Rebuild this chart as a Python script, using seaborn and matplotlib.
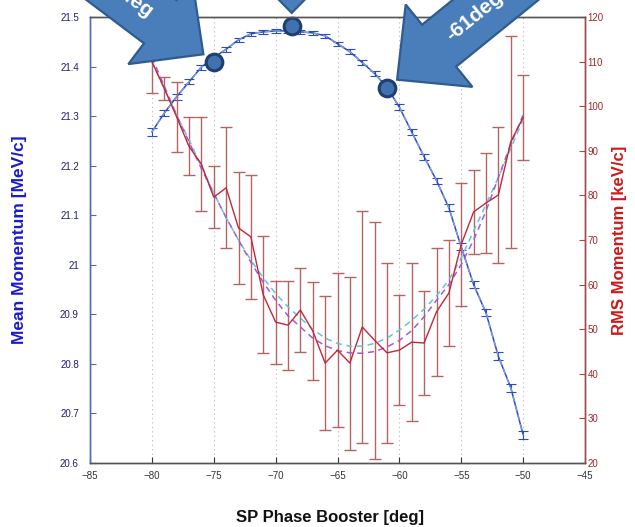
import numpy as np
import pandas as pd
import matplotlib
matplotlib.use("Agg")
import matplotlib.pyplot as plt
from matplotlib.patches import Polygon
from matplotlib.transforms import IdentityTransform
import seaborn as sns

# ---- data -------------------------------------------------------------
phase = [-80, -79, -78, -77, -76, -75, -74, -73, -72, -71, -70, -69, -68,
         -67, -66, -65, -64, -63, -62, -61, -60, -59, -58, -57, -56, -55,
         -54, -53, -52, -51, -50]

mean_momentum = [21.268, 21.306, 21.339, 21.369, 21.399, 21.418, 21.435,
                 21.454, 21.466, 21.470, 21.472, 21.472, 21.470, 21.468,
                 21.462, 21.446, 21.430, 21.408, 21.386, 21.358, 21.318,
                 21.268, 21.218, 21.170, 21.115, 21.036, 20.960, 20.903,
                 20.815, 20.752, 20.657]
mean_err = [0.008, 0.006, 0.006, 0.005, 0.005, 0.005, 0.005, 0.004, 0.004,
            0.004, 0.004, 0.004, 0.004, 0.004, 0.004, 0.004, 0.005, 0.005,
            0.005, 0.005, 0.006, 0.006, 0.006, 0.006, 0.007, 0.007, 0.007,
            0.007, 0.008, 0.008, 0.008]

rms_momentum = [110.0, 104.0, 97.6, 91.0, 87.0, 79.6, 81.7, 72.7, 70.7, 57.7,
                51.6, 50.9, 54.3, 49.6, 42.4, 45.3, 42.4, 50.5, 47.5, 44.7,
                45.3, 47.1, 46.9, 53.9, 58.1, 69.0, 76.3, 78.3, 80.1, 92.0,
                97.5]
rms_err = [7.0, 2.5, 7.9, 6.5, 10.5, 7.0, 13.6, 12.6, 13.9, 13.1, 9.3, 10.0,
           9.5, 10.9, 15.1, 17.3, 19.4, 26.0, 26.5, 20.2, 12.4, 17.7, 11.7,
           14.4, 11.9, 13.7, 9.4, 11.3, 15.2, 23.7, 9.6]

rms_fit_a = [110.0, 104.0, 98.0, 92.5, 86.5, 80.5, 75.0, 70.0, 65.5, 61.5,
             58.0, 55.0, 52.5, 50.0, 48.0, 46.8, 46.2, 46.2, 46.8, 48.0,
             49.8, 52.0, 54.5, 57.5, 61.0, 66.0, 72.0, 78.0, 84.0, 90.5, 97.0]
rms_fit_b = [111.0, 104.5, 98.0, 92.0, 86.0, 80.5, 75.0, 70.0, 65.0, 60.5,
             56.5, 53.0, 50.5, 48.0, 46.3, 45.2, 44.7, 44.6, 45.0, 46.0,
             47.5, 49.7, 52.8, 56.5, 60.0, 64.5, 70.0, 76.5, 84.0, 91.5, 98.0]

marked_phase = [-75.0, -68.7, -61.0]
marked_mean = [21.409, 21.482, 21.357]
marked_text = ["-75deg", "", "-61deg"]

x_ticks = [-85, -80, -75, -70, -65, -60, -55, -50, -45]
left_ticks = [20.6, 20.7, 20.8, 20.9, 21.0, 21.1, 21.2, 21.3, 21.4, 21.5]
left_tick_labels = ["20.6", "20.7", "20.8", "20.9", "21", "21.1", "21.2",
                    "21.3", "21.4", "21.5"]
right_ticks = [20, 30, 40, 50, 60, 70, 80, 90, 100, 110, 120]

# ---- style ------------------------------------------------------------
sns.set_theme(style="white")
plt.rcParams["font.family"] = ["Liberation Sans", "DejaVu Sans"]

BLUE = "#2b4cc0"
LIGHT_BLUE = "#7d9de0"
RED = "#c0283a"
BAR_RED = "#b46464"
CYAN = "#62c6d6"
MAGENTA = "#a65ad0"
ARROW_FILL = "#4a7ebb"
ARROW_EDGE = "#2f5b8f"

W, H = 635, 527
fig = plt.figure(figsize=(W / 100, H / 100), dpi=100)
fig.patch.set_facecolor("white")
ax = fig.add_axes([90 / W, 64 / H, 495 / W, 446 / H])

df = pd.DataFrame({"phase": phase, "mean": mean_momentum, "rms": rms_momentum,
                   "fit_a": rms_fit_a, "fit_b": rms_fit_b})

# mean momentum (left axis)
ax.errorbar(df["phase"], df["mean"], yerr=mean_err, fmt="none",
            ecolor=BLUE, elinewidth=0.8, capsize=3.5, capthick=0.8, zorder=3)
sns.lineplot(data=df, x="phase", y="mean", ax=ax, color=BLUE, lw=1.1,
             zorder=3)
sns.lineplot(data=df, x="phase", y="mean", ax=ax, color=LIGHT_BLUE, lw=1.0,
             linestyle=(0, (4, 3)), zorder=4)

ax.set_xlim(-85, -45)
ax.set_ylim(20.6, 21.5)
ax.set_xticks(x_ticks)
ax.set_yticks(left_ticks)
ax.set_yticklabels(left_tick_labels)
ax.xaxis.grid(True, linestyle=(0, (1, 3)), color="#b8b8b8", lw=0.8)
ax.yaxis.grid(False)
ax.set_axisbelow(True)

# RMS momentum (right axis)
ax2 = ax.twinx()
ax2.errorbar(df["phase"], df["rms"], yerr=rms_err, fmt="none",
             ecolor=BAR_RED, elinewidth=1.0, capsize=4, capthick=1.0,
             zorder=2)
sns.lineplot(data=df, x="phase", y="fit_a", ax=ax2, color=CYAN, lw=1.1,
             linestyle=(0, (4, 3)), zorder=3)
sns.lineplot(data=df, x="phase", y="fit_b", ax=ax2, color=MAGENTA, lw=1.1,
             linestyle=(0, (4, 3)), zorder=3)
sns.lineplot(data=df, x="phase", y="rms", ax=ax2, color=RED, lw=1.0,
             zorder=4)
ax2.set_ylim(20, 120)
ax2.set_yticks(right_ticks)
ax2.set_xlim(-85, -45)

# axes cosmetics
for a in (ax, ax2):
    for s in a.spines.values():
        s.set_linewidth(1.0)
        s.set_color("#555555")
ax.spines["left"].set_color("#5a66b8")
ax2.spines["left"].set_color("#5a66b8")
ax2.spines["right"].set_color("#a84848")

ax.tick_params(axis="x", direction="in", length=4, width=0.8, pad=6,
               labelsize=7, colors="#333333", top=False, bottom=True)
ax.tick_params(axis="y", direction="in", length=4, width=0.8, pad=8,
               labelsize=7, colors="#5a66b8", labelcolor="#1c1c78")
ax2.tick_params(axis="y", direction="in", length=4, width=0.8, pad=2,
                labelsize=7, colors="#a84848", labelcolor="#a02828")

ax.set_xlabel("SP Phase Booster [deg]", fontsize=12, fontweight="bold",
              color="#111111")
ax.xaxis.set_label_coords(0.485, -0.105)
ax.set_ylabel("Mean Momentum [MeV/c]", fontsize=12.5, fontweight="bold",
              color="#1a1ad0")
ax.yaxis.set_label_coords(-0.128, 0.5)
ax2.set_ylabel("RMS Momentum [keV/c]", fontsize=12, fontweight="bold",
               color="#d01818", rotation=90)
ax2.yaxis.set_label_coords(1.055, 0.5)

# highlighted phases: circles with block arrows pointing at them
ax2.set_zorder(ax.get_zorder() + 1)
ax2.patch.set_visible(False)
ax.plot(marked_phase, marked_mean, "o", ms=12, mfc="#3f72af", mec="#1f3f6f",
        mew=2.2, clip_on=False, zorder=20)
tip_dirs = [143.0, 90.0, 39.0]   # direction from tip back along the shaft
for px, py, label, ang in zip(marked_phase, marked_mean, marked_text, tip_dirs):
    cx, cy = ax.transData.transform((px, py))
    u = np.array([np.cos(np.radians(ang)), np.sin(np.radians(ang))])
    n = np.array([-u[1], u[0]])
    tip = np.array([cx, cy]) + 13 * u
    head_len, head_half, shaft_half, length = 54, 53, 27, 320
    local = [(0, 0), (head_len, head_half), (head_len, shaft_half),
             (length, shaft_half), (length, -shaft_half),
             (head_len, -shaft_half), (head_len, -head_half)]
    pts = [tip + s * u + t * n for s, t in local]
    fig.add_artist(Polygon(pts, closed=True, facecolor=ARROW_FILL,
                           edgecolor=ARROW_EDGE, lw=1.6,
                           transform=IdentityTransform(), zorder=30))
    if label:
        pos = tip + 100 * u
        rot = ang - 180 if ang > 90 else ang
        fig.text(pos[0], pos[1], label, transform=IdentityTransform(),
                 rotation=rot, rotation_mode="anchor", ha="center",
                 va="center", color="white", fontsize=15, fontweight="bold",
                 zorder=31)

fig.savefig("out.png", dpi=100)
